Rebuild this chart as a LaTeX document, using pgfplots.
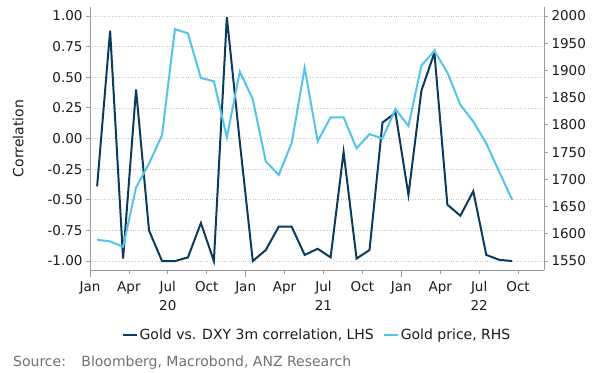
\documentclass[border=0pt]{standalone}
\usepackage{fontspec}
\setmainfont{DejaVu Sans}
\usepackage{pgfplots}
\pgfplotsset{compat=1.18}
\definecolor{dark}{HTML}{0B3A5C}
\definecolor{light}{HTML}{54C3EA}
\definecolor{axgray}{HTML}{9A9A9A}
\definecolor{gridgray}{HTML}{C8C8C8}
\definecolor{txt}{HTML}{1A1A1A}
\definecolor{srcgray}{HTML}{707070}
\newcommand{\tickfont}{\fontsize{13.5bp}{19bp}\selectfont}
\newcommand{\textfontb}{\fontsize{14bp}{17bp}\selectfont}
\begin{document}
\begin{tikzpicture}
\useasboundingbox (0,0) rectangle (600bp,373bp);
\begin{axis}[
  at={(90bp,103bp)}, anchor=south west,
  scale only axis, width=454bp, height=263bp,
  xmin=0, xmax=35, ymin=-1.073, ymax=1.073,
  axis x line*=bottom, axis y line*=left,
  axis line style={axgray, line width=0.8bp, -},
  tick align=outside,
  major tick length=4bp,
  tick style={axgray, line width=0.8bp},
  xtick={0,3,6,9,12,15,18,21,24,27,30,33},
  xticklabels={Jan,Apr,{Jul\\20},Oct,Jan,Apr,{Jul\\21},Oct,Jan,Apr,{Jul\\22},Oct},
  xticklabel style={align=center, font=\tickfont, text=txt, yshift=-4bp},
  extra x ticks={0,12,24},
  extra x tick labels={},
  extra x tick style={major tick length=7bp, grid=none},
  ytick={-1,-0.75,-0.5,-0.25,0,0.25,0.5,0.75,1},
  yticklabels={-1.00,-0.75,-0.50,-0.25,0.00,0.25,0.50,0.75,1.00},
  yticklabel style={font=\tickfont, text=txt},
  ymajorgrids,
  major grid style={gridgray, dotted, line width=0.6bp},
  ylabel={Correlation},
  ylabel style={at={(axis description cs:-0.158,0.5)}, anchor=center, font=\textfontb, text=txt},
  legend style={draw=none, fill=none, at={(0.5,-0.247)}, anchor=center,
    legend columns=2, font=\textfontb, text=txt,
    /tikz/every even column/.append style={column sep=7bp},
    inner sep=0pt},
  legend image code/.code={\draw[#1] (0bp,0bp) -- (14bp,0bp);},
  clip=false,
]
\addplot[dark, line width=2bp] coordinates {
(0.55,-0.39) (1.55,0.88) (2.55,-0.98) (3.55,0.40) (4.55,-0.75) (5.55,-1.00)
(6.55,-1.00) (7.55,-0.97) (8.55,-0.69) (9.55,-1.00) (10.55,0.99) (11.55,-0.03)
(12.55,-1.00) (13.55,-0.91) (14.55,-0.72) (15.55,-0.72) (16.55,-0.95) (17.55,-0.90)
(18.55,-0.97) (19.55,-0.11) (20.55,-0.98) (21.55,-0.91) (22.55,0.13) (23.55,0.21)
(24.55,-0.46) (25.55,0.39) (26.55,0.70) (27.55,-0.54) (28.55,-0.63) (29.55,-0.43)
(30.55,-0.95) (31.55,-0.99) (32.55,-1.00)
};
\addlegendentry{Gold vs. DXY 3m correlation, LHS}
\addlegendimage{light, line width=2bp}
\addlegendentry{Gold price, RHS}
\end{axis}
\begin{axis}[
  at={(90bp,103bp)}, anchor=south west,
  scale only axis, width=454bp, height=263bp,
  xmin=0, xmax=35, ymin=1533.5, ymax=2016.5,
  axis x line=none, axis y line*=right,
  axis line style={axgray, line width=0.8bp, -},
  tick align=outside,
  major tick length=4bp,
  tick style={axgray, line width=0.8bp},
  ytick={1550,1600,1650,1700,1750,1800,1850,1900,1950,2000},
  yticklabels={1550,1600,1650,1700,1750,1800,1850,1900,1950,2000},
  yticklabel style={font=\tickfont, text=txt},
]
\addplot[light, line width=2bp] coordinates {
(0.55,1589) (1.55,1586) (2.55,1576) (3.55,1685) (4.55,1729) (5.55,1781)
(6.55,1976) (7.55,1968) (8.55,1886) (9.55,1880) (10.55,1777) (11.55,1898)
(12.55,1847) (13.55,1733) (14.55,1708) (15.55,1767) (16.55,1905) (17.55,1770)
(18.55,1814) (19.55,1814) (20.55,1757) (21.55,1783) (22.55,1775) (23.55,1829)
(24.55,1798) (25.55,1909) (26.55,1936) (27.55,1896) (28.55,1837) (29.55,1806)
(30.55,1766) (31.55,1714) (32.55,1662)
};
\end{axis}
\node[anchor=base west, inner sep=0pt, text=srcgray, font=\textfontb] at (13bp,6.5bp) {Source:\hspace{1.1em}Bloomberg, Macrobond, ANZ Research};
\end{tikzpicture}
\end{document}
